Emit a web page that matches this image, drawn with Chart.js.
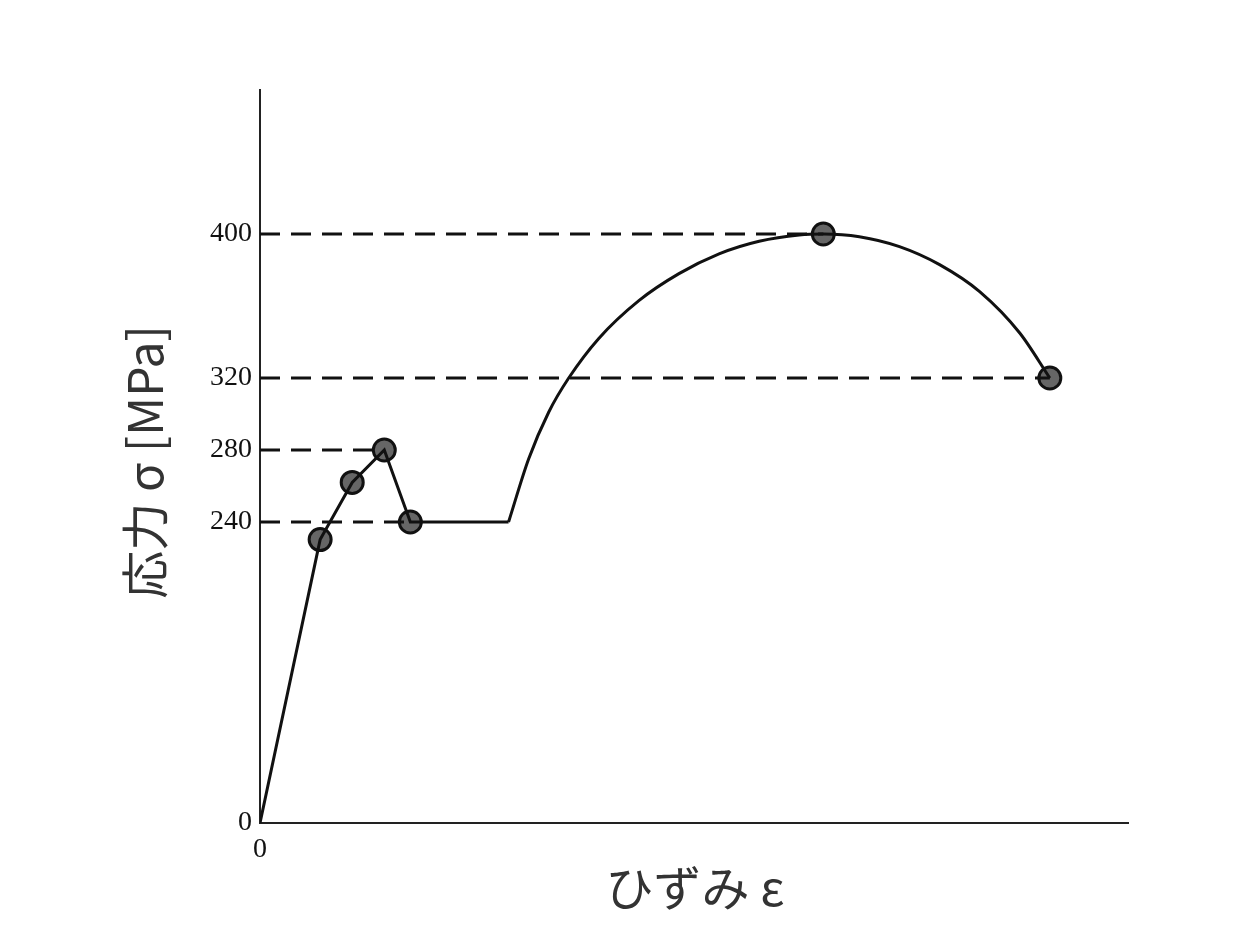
<!DOCTYPE html>
<html>
<head>
<meta charset="utf-8">
<script src="https://cdn.jsdelivr.net/npm/chart.js@4"></script>
<style>
  html, body { margin: 0; padding: 0; background: #fff; }
  #wrap { width: 1244px; height: 952px; }
</style>
</head>
<body>
<div id="wrap"><canvas id="c"></canvas></div>
<script>
// strain in arbitrary units, stress in MPa
const yTicks = [0, 240, 280, 320, 400];
const xTicks = [0];

const lineStrain = [0, 6, 9.2, 12.4, 15, 24.8];
const lineStress = [0, 226, 262, 280, 240, 240];

const curveStrain = [24.8, 26.8, 28.8, 30.8, 33.8, 37.8, 41.8, 45.8, 49.8, 53.8, 56.2, 59.8, 63.8, 67.8, 71.8, 75.8, 78.8];
const curveStress = [240, 275, 301, 320, 342, 363, 378, 389, 396, 399.5, 400, 398.5, 393, 383, 368, 345, 320];

const markStrain = [6, 9.2, 12.4, 15, 56.2, 78.8];
const markStress = [226, 262, 280, 240, 400, 320];

// dashed guides: stress level and where it ends
const guideStress = [400, 320, 280, 240];
const guideEnd = [56.2, 78.8, 12.4, 15];

// y axis is broken: 0..240 compressed, 240..480 to scale
const BREAK = 240, BREAK_FRAC = 0.4106;
function toFrac(v) {
  return v <= BREAK ? v / BREAK * BREAK_FRAC
                    : BREAK_FRAC + (v - BREAK) / 240 * (1 - BREAK_FRAC);
}
function fromFrac(f) {
  return f <= BREAK_FRAC ? f / BREAK_FRAC * BREAK
                         : BREAK + (f - BREAK_FRAC) / (1 - BREAK_FRAC) * 240;
}
class BrokenScale extends Chart.LinearScale {
  getPixelForValue(v) { return this.bottom - toFrac(v) * (this.bottom - this.top); }
  getValueForPixel(p) { return fromFrac((this.bottom - p) / (this.bottom - this.top)); }
}
BrokenScale.id = 'broken';
BrokenScale.defaults = Chart.LinearScale.defaults;
Chart.register(BrokenScale);

const pts = (xs, ys) => xs.map((x, i) => ({ x: x, y: ys[i] }));

const guides = guideStress.map((s, i) => ({
  data: [{ x: 0, y: s }, { x: guideEnd[i], y: s }],
  borderColor: '#111', borderWidth: 3, borderDash: [20, 11],
  pointRadius: 0, tension: 0
}));

const titles = {
  id: 'titles',
  afterDraw(chart) {
    const ctx = chart.ctx;
    ctx.save();
    ctx.fillStyle = '#333';
    ctx.textAlign = 'center';
    ctx.textBaseline = 'middle';
    ctx.font = '48px "Noto Sans CJK JP", "Noto Sans", sans-serif';
    ctx.fillText('ひずみ ε', 695, 888);
    ctx.translate(145, 462);
    ctx.rotate(-Math.PI / 2);
    ctx.fillText('応力 σ [MPa]', 0, 0);
    ctx.restore();
  }
};

new Chart(document.getElementById('c'), {
  type: 'line',
  data: {
    datasets: guides.concat([
      { data: pts(lineStrain, lineStress), borderColor: '#111', borderWidth: 3, pointRadius: 0, tension: 0 },
      { data: pts(curveStrain, curveStress), borderColor: '#111', borderWidth: 3, pointRadius: 0,
        cubicInterpolationMode: 'monotone' },
      { data: pts(markStrain, markStress), showLine: false, pointRadius: 11,
        pointBackgroundColor: '#666', pointBorderColor: '#111', pointBorderWidth: 3 }
    ])
  },
  options: {
    responsive: true, maintainAspectRatio: false, animation: false,
    layout: { padding: { top: 90, right: 116 } },
    plugins: { legend: { display: false }, tooltip: { enabled: false } },
    scales: {
      x: {
        type: 'linear', min: 0, max: 86.6,
        afterBuildTicks: s => { s.ticks = xTicks.map(v => ({ value: v })); },
        afterFit: s => { s.height = 129; },
        grid: { display: false, drawTicks: false },
        border: { color: '#222', width: 2 },
        ticks: { color: '#111', padding: 10, font: { family: '"Liberation Serif", serif', size: 28 } }
      },
      y: {
        type: 'broken', min: 0, max: 480,
        afterBuildTicks: s => { s.ticks = yTicks.map(v => ({ value: v })); },
        afterFit: s => { s.width = 260; },
        grid: { display: false, drawTicks: false },
        border: { color: '#222', width: 2 },
        ticks: { color: '#111', padding: 8, font: { family: '"Liberation Serif", serif', size: 28 } }
      }
    }
  },
  plugins: [titles]
});
</script>
</body>
</html>
